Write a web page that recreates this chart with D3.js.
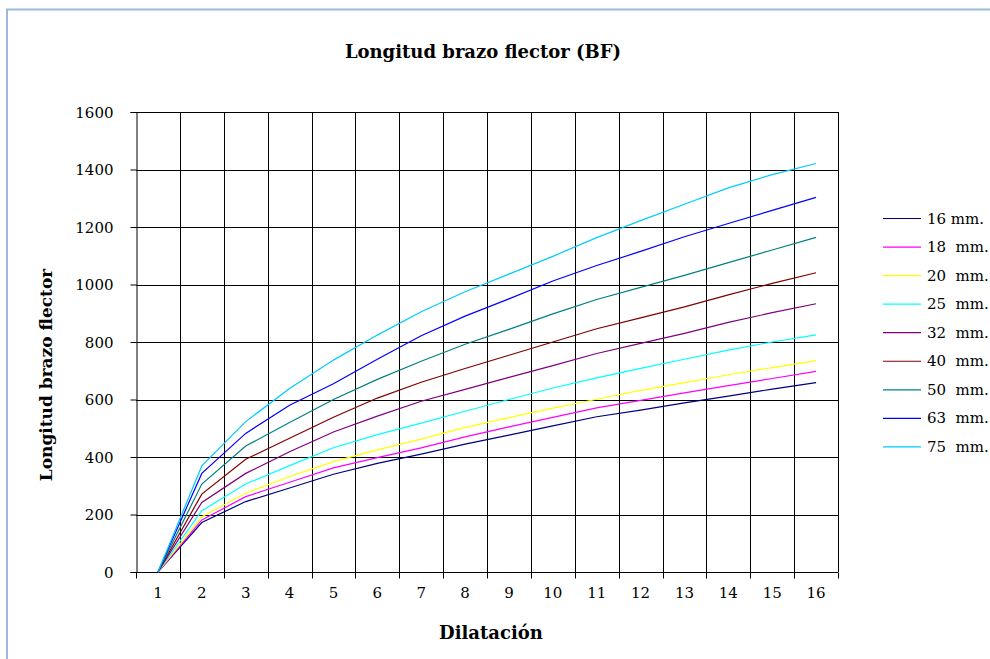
<!DOCTYPE html>
<html>
<head>
<meta charset="utf-8">
<script src="https://cdn.jsdelivr.net/npm/d3@7"></script>
<style>
    body { margin: 0; background: #fff; }
    svg { display: block; }
    text { font-family: "DejaVu Serif", serif; fill: #000; }
</style>
</head>
<body>
<script>
// data
const categories = ['1', '2', '3', '4', '5', '6', '7', '8', '9', '10', '11', '12', '13', '14', '15', '16'];
const seriesNames = ['16 mm.', '18  mm.', '20  mm.', '25  mm.', '32  mm.', '40  mm.', '50  mm.', '63  mm.', '75  mm.'];
const mm16 = [0, 172, 245, 292, 340, 378, 410, 445, 476, 508, 540, 563, 588, 612, 636, 659];
const mm18 = [0, 181, 262, 312, 362, 398, 432, 470, 505, 538, 571, 597, 623, 648, 673, 698];
const mm20 = [0, 192, 274, 332, 384, 425, 462, 503, 537, 570, 601, 632, 659, 686, 711, 735];
const mm25 = [0, 213, 306, 370, 432, 478, 518, 559, 600, 640, 675, 708, 740, 772, 800, 825];
const mm32 = [0, 242, 343, 418, 487, 542, 594, 635, 677, 718, 760, 795, 830, 868, 902, 933];
const mm40 = [0, 271, 392, 465, 538, 605, 660, 708, 754, 800, 846, 884, 922, 964, 1004, 1041];
const mm50 = [0, 306, 438, 520, 600, 670, 733, 792, 844, 898, 948, 990, 1032, 1076, 1120, 1164];
const mm63 = [0, 343, 482, 580, 655, 740, 822, 890, 950, 1012, 1066, 1115, 1166, 1212, 1258, 1303];
const mm75 = [0, 369, 523, 638, 737, 824, 905, 975, 1036, 1098, 1163, 1222, 1279, 1336, 1382, 1421];
const yTicks = [0, 200, 400, 600, 800, 1000, 1200, 1400, 1600];

const allSeries = [mm16, mm18, mm20, mm25, mm32, mm40, mm50, mm63, mm75];

(function drawChart() {
    const W = 990, H = 659;
    const plot = { left: 136, right: 838, top: 112, bottom: 572 };

    const svg = d3.select('body').append('svg')
        .attr('width', W)
        .attr('height', H);

    svg.append('rect')
        .attr('width', W).attr('height', H)
        .style('fill', '#fff');

    // outer chart border (light blue, runs past the picture right / bottom)
    svg.append('rect')
        .attr('x', 7).attr('y', 9.5)
        .attr('width', 1100).attr('height', 800)
        .style('fill', 'none')
        .style('stroke', '#9cb9dc')
        .style('stroke-width', 2);

    const x = d3.scaleBand()
        .domain(categories)
        .range([plot.left, plot.right])
        .padding(0);

    const y = d3.scaleLinear()
        .domain([0, 1600])
        .range([plot.bottom, plot.top]);

    const colors = d3.scaleOrdinal()
        .domain(seriesNames)
        .range(['#000080', '#ff00ff', '#ffff00', '#00ffff', '#800080', '#800000', '#008080', '#0000ff', '#00ccff']);

    const crisp = v => Math.round(v) + 0.5;

    // horizontal gridlines
    svg.append('g').selectAll('line')
        .data(yTicks.slice(1))
        .enter()
        .append('line')
        .attr('x1', plot.left).attr('x2', plot.right)
        .attr('y1', d => crisp(y(d))).attr('y2', d => crisp(y(d)))
        .style('stroke', '#000')
        .style('stroke-width', 1);

    // vertical gridlines at category boundaries
    svg.append('g').selectAll('line')
        .data(categories.slice(1).concat(['end']))
        .enter()
        .append('line')
        .attr('x1', d => d === 'end' ? crisp(plot.right) : crisp(x(d)))
        .attr('x2', d => d === 'end' ? crisp(plot.right) : crisp(x(d)))
        .attr('y1', plot.top).attr('y2', plot.bottom)
        .style('stroke', '#000')
        .style('stroke-width', 1);

    // y axis
    const yAxis = svg.append('g')
        .attr('transform', `translate(${crisp(plot.left)},0)`)
        .call(d3.axisLeft(y).tickValues(yTicks).tickSize(6).tickPadding(17).tickFormat(d3.format('d')));
    yAxis.select('.domain').style('stroke', '#000');
    yAxis.selectAll('.tick line').style('stroke', '#000');
    yAxis.selectAll('text')
        .style('font-family', '"DejaVu Serif", serif')
        .style('font-size', '15px')
        .attr('dy', '0.36em');

    // x axis: ticks on the band edges, labels in the band centres
    const xAxis = svg.append('g')
        .attr('transform', `translate(0,${crisp(plot.bottom)})`);
    xAxis.append('line')
        .attr('x1', plot.left).attr('x2', plot.right)
        .style('stroke', '#000');
    xAxis.selectAll('line.tk')
        .data(categories.concat(['end']))
        .enter()
        .append('line')
        .classed('tk', true)
        .attr('x1', d => d === 'end' ? crisp(plot.right) : crisp(x(d)))
        .attr('x2', d => d === 'end' ? crisp(plot.right) : crisp(x(d)))
        .attr('y1', 0).attr('y2', 6)
        .style('stroke', '#000');
    xAxis.selectAll('text')
        .data(categories)
        .enter()
        .append('text')
        .attr('x', d => x(d) + x.bandwidth() / 2)
        .attr('y', 25)
        .attr('text-anchor', 'middle')
        .style('font-size', '15px')
        .text(d => d);

    // series lines
    const line = d3.line()
        .x((d, i) => x(categories[i]) + x.bandwidth() / 2)
        .y(d => y(d));

    svg.append('g').selectAll('path')
        .data(allSeries)
        .enter()
        .append('path')
        .attr('d', line)
        .style('fill', 'none')
        .style('stroke', (d, i) => colors(seriesNames[i]))
        .style('stroke-width', 1.2);

    // titles
    svg.append('text')
        .attr('x', 483).attr('y', 58)
        .attr('text-anchor', 'middle')
        .style('font-size', '18px')
        .style('font-weight', 'bold')
        .text('Longitud brazo flector (BF)');

    svg.append('text')
        .attr('transform', `translate(52,375) rotate(-90)`)
        .attr('text-anchor', 'middle')
        .style('font-size', '17px')
        .style('font-weight', 'bold')
        .text('Longitud brazo flector');

    svg.append('text')
        .attr('x', 491).attr('y', 639)
        .attr('text-anchor', 'middle')
        .style('font-size', '18px')
        .style('font-weight', 'bold')
        .text('Dilatación');

    // legend
    const legend = svg.append('g')
        .selectAll('g')
        .data(seriesNames)
        .enter()
        .append('g')
        .attr('transform', (d, i) => `translate(883,${218 + i * 28.55})`);
    legend.append('line')
        .attr('x1', 0).attr('x2', 38)
        .attr('y1', 0.5).attr('y2', 0.5)
        .style('stroke', d => colors(d))
        .style('stroke-width', 1.2);
    legend.append('text')
        .attr('x', 44).attr('y', 5.5)
        .style('font-size', '15px')
        .style('white-space', 'pre')
        .attr('xml:space', 'preserve')
        .text(d => d);
}());
</script>
</body>
</html>
